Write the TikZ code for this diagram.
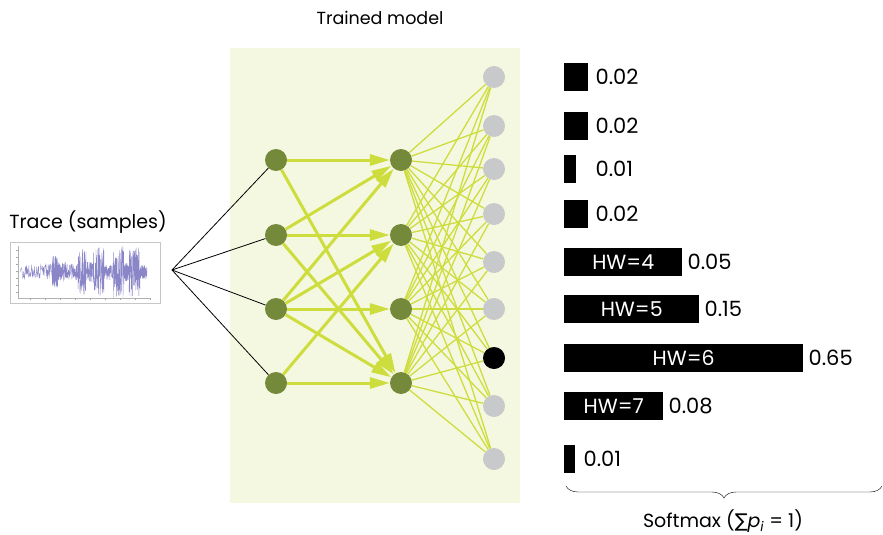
\documentclass[tikz,border=0pt]{standalone}
\usepackage{fontspec}
\setmainfont{Poppins}
\newfontfamily\symfont{DejaVu Sans}
\usepackage{tikz}
\usetikzlibrary{arrows.meta,positioning,calc,decorations.pathreplacing}
\usepackage{xcolor}
\definecolor{modelbg}{HTML}{F5F8E0}
\definecolor{unitgreen}{HTML}{748A3A}
\definecolor{weightlime}{HTML}{CEDD3E}
\definecolor{outgrey}{HTML}{C8C9CB}
\definecolor{tracecol}{HTML}{8A86C8}

\begin{document}
\begin{tikzpicture}[x=1pt,y=-1pt,
    font=\fontsize{19}{21}\selectfont,
    hidden/.style={circle,fill=unitgreen,minimum size=22pt,inner sep=0pt},
    outunit/.style={circle,fill=outgrey,minimum size=22pt,inner sep=0pt},
    fwd/.style={draw=weightlime,line width=3pt,-{Triangle[length=20pt,width=11pt]}},
    dense/.style={draw=weightlime,line width=1.3pt},
    bar/.style={fill=black,text=white,minimum height=28pt,inner sep=0pt,anchor=west,
        font=\fontsize{20.5}{22}\selectfont},
    prob/.style={anchor=west,inner sep=0pt,font=\fontsize{21}{22}\selectfont}]
    \useasboundingbox (0,0) rectangle (883,535);

    % Trained model
    \fill[modelbg] (230,48) rectangle (520,503);
    \node[font=\fontsize{17.5}{20}\selectfont] (title) at (380,18) {Trained model};

    % Units
    \foreach \i/\y in {1/160,2/235,3/309,4/383} {
        \node[hidden] (h\i) at (276,\y) {};
        \node[hidden] (g\i) at (401,\y) {};
    }
    \foreach \i/\y in {1/77,2/126,3/169,4/214,5/262,6/309,7/358,8/406,9/459}
        \node[outunit] (o\i) at (494,\y) {};
    \node[outunit,fill=black] at (o7) {};

    % Weights
    \foreach \a/\b in {1/1,1/4,2/1,2/2,2/4,3/1,3/2,3/3,3/4,4/2,4/4}
        \draw[fwd] (h\a) -- (g\b);
    \foreach \a in {1,...,4}
        \foreach \b in {1,...,9}
            \draw[dense] (g\a) -- (o\b);

    % Trace
    \node (tracelbl) at (88,222) {Trace (samples)};
    \draw[gray!45,fill=white] (10,242) rectangle (160,303);
    \draw[gray!60,line width=0.3pt] (18,246) -- (18,298) -- (150,298);
    \foreach \x in {30,45,...,150}
        \draw[gray!70,line width=0.3pt] (\x,298) -- (\x,300);
    \foreach \y in {250,257,...,298}
        \draw[gray!70,line width=0.3pt] (16,\y) -- (18,\y);
    \pgfmathsetseed{11}
    \foreach \a/\b/\amp in {20/52/8,52/58/16,58/66/10,66/78/8,78/86/23,86/93/10,
        93/104/25,104/113/8,113/124/26,124/129/9,129/140/25,140/147/7}
        \draw[tracecol,line width=0.35pt]
            plot[domain=\a:\b,samples=70] (\x,{272+\amp*rand});
    \coordinate (fan) at (172,270);
    \foreach \i in {1,...,4}
        \draw[black,line width=0.8pt] (fan) -- (h\i);

    % Softmax output
    \foreach \i/\w/\t/\p/\g in {1/24//0.02/7,2/24//0.02/7,3/12//0.01/19,4/24//0.02/7,
        5/118/HW=4/0.05/5,6/135/HW=5/0.15/5,7/239/HW=6/0.65/5,8/99/HW=7/0.08/5,9/11//0.01/8} {
        \node[bar,minimum width=\w pt] (b\i) at ($(564,0)+(0,0)!(o\i)!(0,1)$) {\t};
        \node[prob,right=\g pt of b\i] (p\i) {\p};
    }
    \draw[decorate,decoration={brace,mirror,amplitude=12pt}] (566,486) -- (882,486);
    \node (smax) at (723,521) {Softmax ({\symfont∑}\textit{p}\textsubscript{\textit{i}} = 1)};
\end{tikzpicture}
\end{document}
